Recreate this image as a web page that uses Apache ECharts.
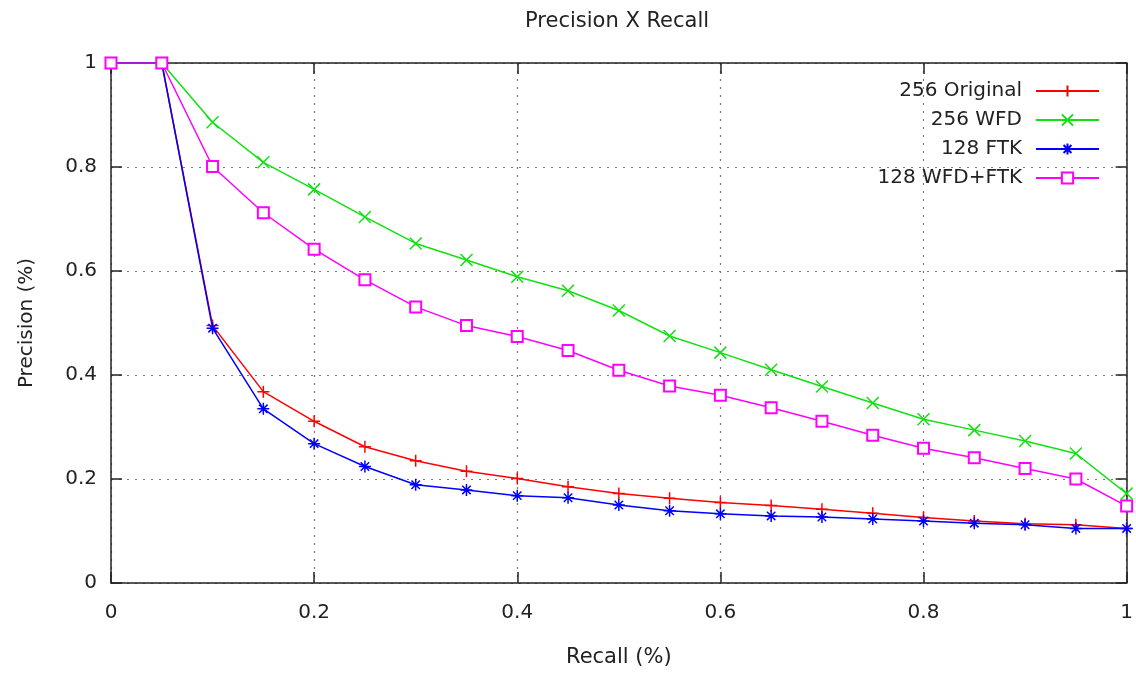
<!DOCTYPE html>
<html>
<head>
<meta charset="utf-8">
<script src="https://cdn.jsdelivr.net/npm/echarts@6/dist/echarts.min.js"></script>
<style>
  html, body { margin: 0; padding: 0; background: #fff; }
  #chart { width: 1136px; height: 673px; }
</style>
</head>
<body>
<div id="chart"></div>
<script>
// recall (x) values
const recall = [0, 0.05, 0.1, 0.15, 0.2, 0.25, 0.3, 0.35, 0.4, 0.45, 0.5,
  0.55, 0.6, 0.65, 0.7, 0.75, 0.8, 0.85, 0.9, 0.95, 1];

// precision per method
const original256 = [1, 1, 0.495, 0.368, 0.311, 0.262, 0.235, 0.215, 0.201, 0.185, 0.172,
  0.163, 0.155, 0.149, 0.142, 0.134, 0.126, 0.119, 0.114, 0.112, 0.105];
const wfd256 = [1, 1, 0.886, 0.809, 0.757, 0.704, 0.653, 0.621, 0.589, 0.562, 0.524,
  0.475, 0.443, 0.41, 0.378, 0.346, 0.315, 0.294, 0.273, 0.249, 0.172];
const ftk128 = [1, 1, 0.49, 0.335, 0.268, 0.224, 0.189, 0.179, 0.168, 0.164, 0.15,
  0.139, 0.133, 0.129, 0.127, 0.123, 0.119, 0.115, 0.112, 0.105, 0.105];
const wfdFtk128 = [1, 1, 0.801, 0.712, 0.642, 0.583, 0.531, 0.495, 0.474, 0.447, 0.409,
  0.379, 0.361, 0.337, 0.311, 0.284, 0.259, 0.241, 0.22, 0.2, 0.148];

const seriesNames = ['256 Original', '256 WFD', '128 FTK', '128 WFD+FTK'];
const seriesValues = [original256, wfd256, ftk128, wfdFtk128];
const colors = ['#ff0000', '#11e011', '#0000ff', '#ff00ff'];

// gnuplot-like point types
const symbols = [
  'path://M5,0L5,10M0,5L10,5',
  'path://M0,0L10,10M10,0L0,10',
  'path://M5,0L5,10M0,5L10,5M1.5,1.5L8.5,8.5M8.5,1.5L1.5,8.5',
  'emptyRect'
];

const font = '"DejaVu Sans", sans-serif';
const chart = echarts.init(document.getElementById('chart'));

// mirrored axes on top/right to close the frame
function frameAxis(pos) {
  return {
    type: 'value', position: pos, min: 0, max: 1, interval: 0.2,
    axisLine: { show: true, onZero: false, lineStyle: { color: '#222', width: 1.5 } },
    axisTick: { show: true, inside: true, length: 11, lineStyle: { color: '#222', width: 1.5 } },
    axisLabel: { show: false },
    splitLine: { show: false }
  };
}

chart.setOption({
  animation: false,
  backgroundColor: '#fff',
  title: {
    text: 'Precision X Recall',
    left: 525,
    top: 11,
    padding: 0,
    textStyle: { fontFamily: font, fontSize: 21, fontWeight: 'normal', color: '#222' }
  },
  legend: {
    orient: 'vertical',
    align: 'right',
    right: 36,
    top: 81,
    padding: 0,
    itemWidth: 63,
    itemHeight: 14,
    itemGap: 9,
    textStyle: { fontFamily: font, fontSize: 20, color: '#222', padding: [0, 9, 0, 0] },
    data: seriesNames
  },
  grid: { left: 111, right: 8, top: 63, bottom: 88 },
  xAxis: [
    {
      type: 'value', min: 0, max: 1, interval: 0.2,
      name: 'Recall (%)', nameLocation: 'middle', nameGap: 64,
      nameTextStyle: { fontFamily: font, fontSize: 21, color: '#222' },
      axisLine: { show: true, onZero: false, lineStyle: { color: '#222', width: 1.5 } },
      axisTick: { show: true, inside: true, length: 11, lineStyle: { color: '#222', width: 1.5 } },
      axisLabel: { fontFamily: font, fontSize: 20, color: '#222', margin: 20 },
      splitLine: { show: true, lineStyle: { type: [2, 6], color: '#777', width: 1.2 } }
    },
    frameAxis('top')
  ],
  yAxis: [
    {
      type: 'value', min: 0, max: 1, interval: 0.2,
      name: 'Precision (%)', nameLocation: 'middle', nameGap: 74, nameRotate: 90,
      nameTextStyle: { fontFamily: font, fontSize: 20, color: '#222' },
      axisLine: { show: true, onZero: false, lineStyle: { color: '#222', width: 1.5 } },
      axisTick: { show: true, inside: true, length: 11, lineStyle: { color: '#222', width: 1.5 } },
      axisLabel: { fontFamily: font, fontSize: 20, color: '#222', margin: 14 },
      splitLine: { show: true, lineStyle: { type: [2, 6], color: '#777', width: 1.2 } }
    },
    frameAxis('right')
  ],
  series: seriesNames.map((name, i) => ({
    name: name,
    type: 'line',
    xAxisIndex: 0,
    yAxisIndex: 0,
    data: recall.map((r, j) => [r, seriesValues[i][j]]),
    symbol: symbols[i],
    symbolSize: i === 3 ? 11 : 12,
    showAllSymbol: true,
    lineStyle: { color: colors[i], width: 1.5 },
    itemStyle: { color: i === 3 ? colors[i] : 'none', borderColor: colors[i], borderWidth: 1.5, opacity: 1 },
    emphasis: { disabled: true }
  }))
});
</script>
</body>
</html>
